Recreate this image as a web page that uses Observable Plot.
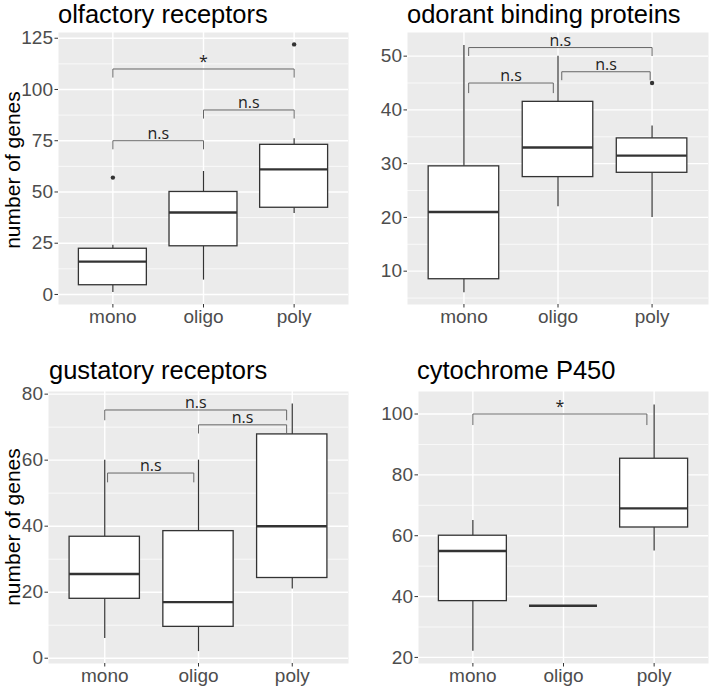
<!DOCTYPE html>
<html>
<head>
<meta charset="utf-8">
<script src="https://cdn.jsdelivr.net/npm/d3@7"></script>
<script src="https://cdn.jsdelivr.net/npm/@observablehq/plot@0.6"></script>
<style>
  html, body { margin: 0; padding: 0; background: #fff; }
  #fig { position: relative; width: 709px; height: 688px; overflow: hidden; background: #fff;
         font-family: "Liberation Sans", Arial, sans-serif; }
  .title { position: absolute; font-size: 25.5px; line-height: normal; color: #000; white-space: nowrap; }
  .ylab { position: absolute; font-size: 21px; line-height: 21px; color: #000; white-space: nowrap;
          transform: translate(-50%, -50%) rotate(-90deg); }
  .panel { position: absolute; }
</style>
</head>
<body>
<div id="fig"></div>
<script>
// ---------- data ----------
const categories = ["mono", "oligo", "poly"];

// olfactory receptors
const olfLow  = [1, 7, 39.5];
const olfQ1   = [4.5, 23.5, 42.3];
const olfMed  = [16, 40, 61];
const olfQ3   = [22.3, 50, 73];
const olfHigh = [24, 60, 76];
const olfOutCat = ["mono", "poly"];
const olfOutVal = [57, 122];
const olfTicks = [0, 25, 50, 75, 100, 125];
const olfBrFrom = [1, 2, 1];
const olfBrTo   = [2, 3, 3];
const olfBrY    = [75, 90, 110];
const olfBrTip  = [71, 86, 106];
const olfBrText = ["n.s", "n.s", "*"];

// odorant binding proteins
const obpLow  = [6, 22, 20];
const obpQ1   = [8.5, 27.5, 28.3];
const obpMed  = [21, 33, 31.5];
const obpQ3   = [29.5, 41.5, 34.7];
const obpHigh = [52, 50, 37];
const obpOutCat = ["poly"];
const obpOutVal = [45];
const obpTicks = [10, 20, 30, 40, 50];
const obpBrFrom = [1.05, 2.04, 1.05];
const obpBrTo   = [1.95, 2.98, 3];
const obpBrY    = [45, 47.1, 51.6];
const obpBrTip  = [43.2, 45.6, 50.1];
const obpBrText = ["n.s", "n.s", "n.s"];

// gustatory receptors
const grLow  = [6, 2, 21];
const grQ1   = [18, 9.5, 24.3];
const grMed  = [25.5, 17, 40];
const grQ3   = [36.8, 38.5, 67.8];
const grHigh = [60, 60, 77];
const grOutCat = [];
const grOutVal = [];
const grTicks = [0, 20, 40, 60, 80];
const grBrFrom = [1.03, 2, 1];
const grBrTo   = [1.95, 2.94, 2.94];
const grBrY    = [56.1, 70.7, 75.2];
const grBrTip  = [53.4, 68.2, 72.2];
const grBrText = ["n.s", "n.s", "n.s"];

// cytochrome P450
const cypLow  = [22, 37, 55];
const cypQ1   = [38.5, 37, 62.7];
const cypMed  = [55, 37, 69];
const cypQ3   = [60, 37, 85.3];
const cypHigh = [65, 37, 103];
const cypOutCat = [];
const cypOutVal = [];
const cypTicks = [20, 40, 60, 80, 100];
const cypBrFrom = [1];
const cypBrTo   = [2.92];
const cypBrY    = [100];
const cypBrTip  = [96.5];
const cypBrText = ["*"];

const titles = ["olfactory receptors", "odorant binding proteins", "gustatory receptors", "cytochrome P450"];
const yTitle = "number of genes";

// ---------- drawing ----------
const fig = document.getElementById("fig");
const pos = categories.map((c, i) => i + 1);
const halfW = 0.375;

function minorOf(ticks, dom) {
  const step = ticks[1] - ticks[0];
  const out = [];
  for (let v = ticks[0] - step / 2; v <= dom[1]; v += step) if (v >= dom[0]) out.push(v);
  return out;
}

function panel(cfg) {
  const idx = d3.range(categories.length);
  const outliers = cfg.outCat.map((c, i) => ({x: categories.indexOf(c) + 1, y: cfg.outVal[i]}));
  const br = cfg.brFrom.map((f, i) => ({x1: f, x2: cfg.brTo[i], y: cfg.brY[i], tip: cfg.brTip[i], text: cfg.brText[i], mid: (f + cfg.brTo[i]) / 2}));
  const brPts = br.flatMap((b, i) => [
    {x: b.x1, y: b.tip, z: i}, {x: b.x1, y: b.y, z: i}, {x: b.x2, y: b.y, z: i}, {x: b.x2, y: b.tip, z: i}
  ]);
  const svg = Plot.plot({
    width: cfg.w, height: cfg.h,
    marginLeft: cfg.mL, marginRight: cfg.mR, marginTop: cfg.mT, marginBottom: cfg.mB,
    x: {domain: [0.4, 3.6]},
    y: {domain: cfg.dom},
    style: {fontFamily: "'Liberation Sans', Arial, sans-serif", background: "transparent", overflow: "visible"},
    marks: [
      Plot.frame({fill: "#ebebeb", stroke: "none"}),
      Plot.ruleY(minorOf(cfg.ticks, cfg.dom), {stroke: "white", strokeWidth: 0.7}),
      Plot.ruleY(cfg.ticks, {stroke: "white", strokeWidth: 1.4}),
      Plot.ruleX(pos, {stroke: "white", strokeWidth: 1.4}),
      Plot.ruleX(idx, {x: i => pos[i], y1: i => cfg.low[i], y2: i => cfg.q1[i], stroke: "#333", strokeWidth: 1.2}),
      Plot.ruleX(idx, {x: i => pos[i], y1: i => cfg.q3[i], y2: i => cfg.high[i], stroke: "#333", strokeWidth: 1.2}),
      Plot.rect(idx, {x1: i => pos[i] - halfW, x2: i => pos[i] + halfW, y1: i => cfg.q1[i], y2: i => cfg.q3[i],
                      fill: "white", stroke: "#333", strokeWidth: 1.3}),
      Plot.ruleY(idx, {x1: i => pos[i] - halfW, x2: i => pos[i] + halfW, y: i => cfg.med[i], stroke: "#333", strokeWidth: 2.4}),
      Plot.dot(outliers, {x: "x", y: "y", r: 2.2, fill: "#333", stroke: "none"}),
      Plot.line(brPts, {x: "x", y: "y", z: "z", stroke: "#666", strokeWidth: 1, curve: "linear"}),
      Plot.text(br, {x: "mid", y: "y", text: "text", lineAnchor: "bottom", dy: -2, fontSize: 16,
                     fontFamily: "'Open Sans', 'Noto Sans', sans-serif", fill: "#222"}),
      Plot.axisY({ticks: cfg.ticks, tickSize: 3.5, tickPadding: 2, fontSize: 19, stroke: "#333", fill: "#4d4d4d", label: null}),
      Plot.axisX({ticks: pos, tickFormat: d => categories[d - 1], tickSize: 3.5, tickPadding: 1, fontSize: 19,
                  stroke: "#333", fill: "#4d4d4d", label: null})
    ]
  });
  svg.classList.add("panel");
  svg.style.left = cfg.left + "px";
  svg.style.top = cfg.top + "px";
  svg.style.maxWidth = "none";
  fig.appendChild(svg);

  const t = document.createElement("div");
  t.className = "title";
  t.textContent = cfg.title;
  t.style.left = cfg.tx + "px";
  t.style.top = cfg.ty + "px";
  fig.appendChild(t);

  if (cfg.ylab) {
    const yl = document.createElement("div");
    yl.className = "ylab";
    yl.textContent = yTitle;
    yl.style.left = cfg.ylx + "px";
    yl.style.top = cfg.yly + "px";
    fig.appendChild(yl);
  }
}

panel({title: titles[0], low: olfLow, q1: olfQ1, med: olfMed, q3: olfQ3, high: olfHigh,
       outCat: olfOutCat, outVal: olfOutVal, ticks: olfTicks, dom: [-4.9, 127.8],
       brFrom: olfBrFrom, brTo: olfBrTo, brY: olfBrY, brTip: olfBrTip, brText: olfBrText,
       left: 0, top: 0, w: 354, h: 344, mL: 58, mR: 6, mT: 32, mB: 40,
       tx: 58, ty: 0, ylab: true, ylx: 12, yly: 170});

panel({title: titles[1], low: obpLow, q1: obpQ1, med: obpMed, q3: obpQ3, high: obpHigh,
       outCat: obpOutCat, outVal: obpOutVal, ticks: obpTicks, dom: [3.8, 54.4],
       brFrom: obpBrFrom, brTo: obpBrTo, brY: obpBrY, brTip: obpBrTip, brText: obpBrText,
       left: 355, top: 0, w: 354, h: 344, mL: 52, mR: 1, mT: 32, mB: 40,
       tx: 407, ty: 0, ylab: false});

panel({title: titles[2], low: grLow, q1: grQ1, med: grMed, q3: grQ3, high: grHigh,
       outCat: grOutCat, outVal: grOutVal, ticks: grTicks, dom: [-1.6, 80.8],
       brFrom: grBrFrom, brTo: grBrTo, brY: grBrY, brTip: grBrTip, brText: grBrText,
       left: 0, top: 344, w: 354, h: 344, mL: 48, mR: 6, mT: 47, mB: 25,
       tx: 49, ty: 356, ylab: true, ylx: 12, yly: 527});

panel({title: titles[3], low: cypLow, q1: cypQ1, med: cypMed, q3: cypQ3, high: cypHigh,
       outCat: cypOutCat, outVal: cypOutVal, ticks: cypTicks, dom: [18.0, 107.4],
       brFrom: cypBrFrom, brTo: cypBrTo, brY: cypBrY, brTip: cypBrTip, brText: cypBrText,
       left: 355, top: 344, w: 354, h: 344, mL: 63, mR: 1, mT: 47, mB: 25,
       tx: 417, ty: 356, ylab: false});
</script>
</body>
</html>
